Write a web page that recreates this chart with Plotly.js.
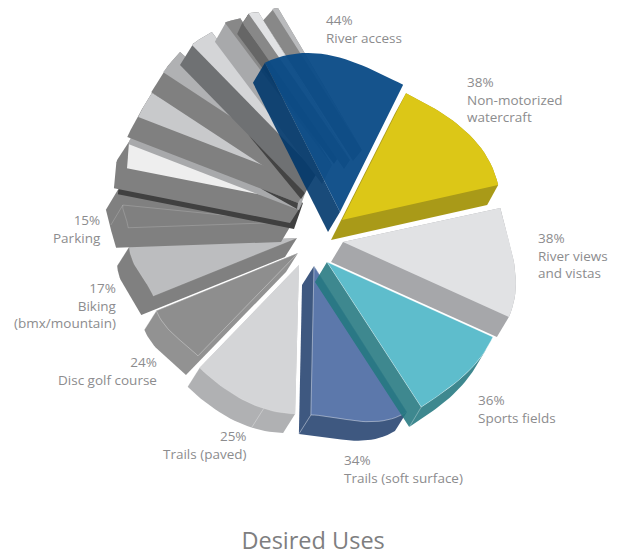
<!DOCTYPE html>
<html>
<head>
<meta charset="utf-8">
<script src="https://cdn.plot.ly/plotly-3.0.1.min.js"></script>
<style>html,body{margin:0;padding:0;background:#fff}#chart{width:620px;height:556px}</style>
</head>
<body>
<div id="chart"></div>
<script>
// ---- data ----
const categories = ['River access','Non-motorized<br>watercraft','River views<br>and vistas','Sports fields','Trails (soft surface)','Trails (paved)','Disc golf course','Biking<br>(bmx/mountain)','Parking','','','','','','','',''];
const percents = [44,38,38,36,34,25,24,17,15,null,null,null,null,null,null,null,null];
// drawn angular size of each slice (degrees), as it appears in the perspective picture
const sliceSizes = [53.1,50.6,36.5,32.7,33.7,42.5,23.6,19,7.7,8.8,8.7,8.5,7.6,5,3.9,2.9,1.9];

// ---- styling / geometry ----
const centre = [322,240];
const startAngle = 116.7;
const gapAfter = [0.4,0.4,0,0.5,0.3,0.2,0.2,1,5.5,1.1,3.5,3.9,-0.3,-4.7,-1.9,-0.7,0];
const explodeX = [18,20,21,5,-8,-23,-24,-25,-29,-19,-13,-10,-5,10,18,28,40];
const explodeY = [-28,-20,2,22,26,25,13,-2,-18,-37,-57,-70,-67,-75,-85,-80,-90];
const reachStart = [167,142,161,182,173,149,143.5,155,165,179.5,183,178,179,178,162,178,167];
const reachEnd   = [142,160,182,173,149,143,153,168,171,184,181,177,176,173,168,174,165];
const depth = [[-12,20],[-11,20],[-12,20],[-12,20],[-12,19],[-12,19],[-12,19],[-12,19],[-12,20],[-13,20],[-11,20],[-12,20],[-12,20],[-10,19],[-6,9],[-6,9],[-9,11]];
const topColors = ['rgba(8,74,134,0.95)','#dcc717','#e1e2e4','#5ebdcc','#5c78ab','#d4d5d7','#8e8e8e','#bcbdbf','#808080','#eeeeee','#c8c9cb','#b0b1b3','#d4d5d7','#888888','#888888','#e1e2e4','#b9babc'];
const wallColors = ['rgba(0,55,107,0.9)','#a99a18','#a6a7aa','rgba(35,120,128,0.88)','#3e5880','#b0b1b3','#929292','#808080','#808080','#808080','#808080','#808080','#6f7173','#a8a9ab','#666666','#888888','#888888'];
const seeThrough = [true,false,false,true,false,false,false,false,false,false,false,false,false,false,false,false,false];
const edgeLine = [0,0,0,.45,.6,.2,.45,.2,.25,0,0,0,0,0,0,0,0];
const drawOrder = [5,6,7,8,9,10,11,12,13,14,15,16,4,3,2,1,0];
const rearSweep = {8:[4.7,7]};            // extra wall area behind a slice: degrees, added reach
const undercut = {9:{d:[-9,26],c:'#404040'},10:{d:[-10,27],c:'#a8a9ab'}};  // band that peeks out under a wall
const ribbons = [{s:12,far:81,w:[-4,6]},{s:10,far:40,w:[-1,6]}];           // dark slit next to the hub
const seams = {5:0.29};
const labelX = [324,465,536,476,342,249,159,119,103];
const labelY = [29,99,255,409,469,445,371,305,229];
const labelAlign = ['left','left','left','left','left','right','right','right','right'];
const labelColor = '#8c8c8e';
const labelFont = 'Open Sans, sans-serif';

function hull(pts){
  const p = pts.slice().sort((a,b)=>a[0]-b[0]||a[1]-b[1]);
  const cross=(o,a,b)=>(a[0]-o[0])*(b[1]-o[1])-(a[1]-o[1])*(b[0]-o[0]);
  const lo=[],up=[];
  for(const q of p){while(lo.length>1&&cross(lo[lo.length-2],lo[lo.length-1],q)<=0)lo.pop();lo.push(q);}
  for(const q of p.slice().reverse()){while(up.length>1&&cross(up[up.length-2],up[up.length-1],q)<=0)up.pop();up.push(q);}
  return lo.slice(0,-1).concat(up.slice(0,-1));
}
// visible side of an extruded convex face only (no overlap with the face itself)
function sideOnly(face,d){
  let area=0; const n=face.length;
  for(let k=0;k<n;k++){const a=face[k],b=face[(k+1)%n];area+=a[0]*b[1]-b[0]*a[1];}
  const facing=[];
  for(let k=0;k<n;k++){
    const a=face[k],b=face[(k+1)%n],ex=b[0]-a[0],ey=b[1]-a[1];
    const nx=area>0?ey:-ey, ny=area>0?-ex:ex;
    facing.push(nx*d[0]+ny*d[1]>0);
  }
  let first=0;
  for(let k=0;k<n;k++){if(facing[k]&&!facing[(k-1+n)%n]){first=k;break;}}
  const chain=[face[first]];
  for(let k=first;facing[k%n]&&chain.length<=n;k++){chain.push(face[(k+1)%n]);}
  return chain.concat(chain.slice().reverse().map(p=>[p[0]+d[0],p[1]+d[1]]));
}
function closed(pts,col,lineCol,w){
  const c=pts.concat([pts[0]]);
  return {type:'scatter',mode:'lines',x:c.map(p=>p[0]),y:c.map(p=>p[1]),fill:'toself',fillcolor:col,
    line:{color:lineCol||col,width:lineCol?w:0},hoverinfo:'skip',showlegend:false};
}
function segment(a,b,col){
  return {type:'scatter',mode:'lines',x:[a[0],b[0]],y:[a[1],b[1]],line:{color:col,width:0.7},hoverinfo:'skip',showlegend:false};
}
const starts=[]; let running=startAngle;
sliceSizes.forEach((s,i)=>{starts.push(running);running-=s+gapAfter[i];});
function apexOf(i){return [centre[0]+explodeX[i],centre[1]+explodeY[i]];}
function reachAt(i,t){return reachStart[i]+(reachEnd[i]-reachStart[i])*(1-Math.cos(Math.PI*t))/2;}
function rimPoint(i,t,r){
  const a=apexOf(i), ang=(starts[i]-t*sliceSizes[i])*Math.PI/180;
  return [a[0]+r*Math.cos(ang),a[1]-r*Math.sin(ang)];
}
function faceOf(i){
  const pts=[apexOf(i)], steps=24;
  for(let k=0;k<=steps;k++){pts.push(rimPoint(i,k/steps,reachAt(i,k/steps)));}
  return pts;
}
const traces=[];
drawOrder.forEach(i=>{
  const face=faceOf(i), d=depth[i];
  const moved=face.map(p=>[p[0]+d[0],p[1]+d[1]]);
  if(undercut[i]){
    const u=undercut[i].d;
    traces.push(closed(hull(face.concat(face.map(p=>[p[0]+u[0],p[1]+u[1]]))),undercut[i].c));
  }
  let outline=face.concat(moved);
  if(rearSweep[i]){
    const [deg,add]=rearSweep[i], tEnd=1+deg/sliceSizes[i];
    const back=rimPoint(i,tEnd,reachEnd[i]+add);
    outline=outline.concat([back,[back[0]+d[0],back[1]+d[1]]]);
  }
  traces.push(closed(seeThrough[i]?sideOnly(face,d):hull(outline),wallColors[i]));
  const lc=edgeLine[i]?`rgba(255,255,255,${edgeLine[i]})`:null;
  traces.push(closed(face,topColors[i],lc,0.7));
  if(lc){const c=face[face.length-1];traces.push(segment(c,[c[0]+d[0],c[1]+d[1]],lc));}
  if(seams[i]!==undefined){const c=rimPoint(i,seams[i],reachAt(i,seams[i]));traces.push(segment(c,[c[0]+d[0],c[1]+d[1]],'rgba(255,255,255,.45)'));}
  ribbons.filter(r=>r.s===i).forEach(r=>{
    const ax=apexOf(i), tip=rimPoint(i,0,r.far), p0=[tip[0]+d[0],tip[1]+d[1]], p1=[ax[0]+d[0],ax[1]+d[1]];
    traces.push(closed([p0,p1,[p1[0]+r.w[0],p1[1]+r.w[1]]],'#444444'));
  });
});

const annotations=percents.map((p,i)=>p===null?null:({
  xref:'x',yref:'y',x:labelX[i],y:labelY[i],xanchor:labelAlign[i],yanchor:'middle',align:labelAlign[i],showarrow:false,
  text:p+'%<br>'+categories[i],font:{family:labelFont,size:13.5,color:labelColor}
})).filter(Boolean);

Plotly.newPlot('chart',traces,{
  width:620,height:556,margin:{l:0,r:0,t:0,b:0},paper_bgcolor:'#fff',plot_bgcolor:'#fff',showlegend:false,
  xaxis:{range:[0,620],visible:false,fixedrange:true},
  yaxis:{range:[556,0],visible:false,fixedrange:true},
  annotations:annotations,
  title:{text:'Desired Uses',font:{family:labelFont,size:23.5,color:'#7e7e80'},x:0.505,xanchor:'center',y:0.027,yanchor:'middle'}
},{displayModeBar:false});
</script>
</body>
</html>
